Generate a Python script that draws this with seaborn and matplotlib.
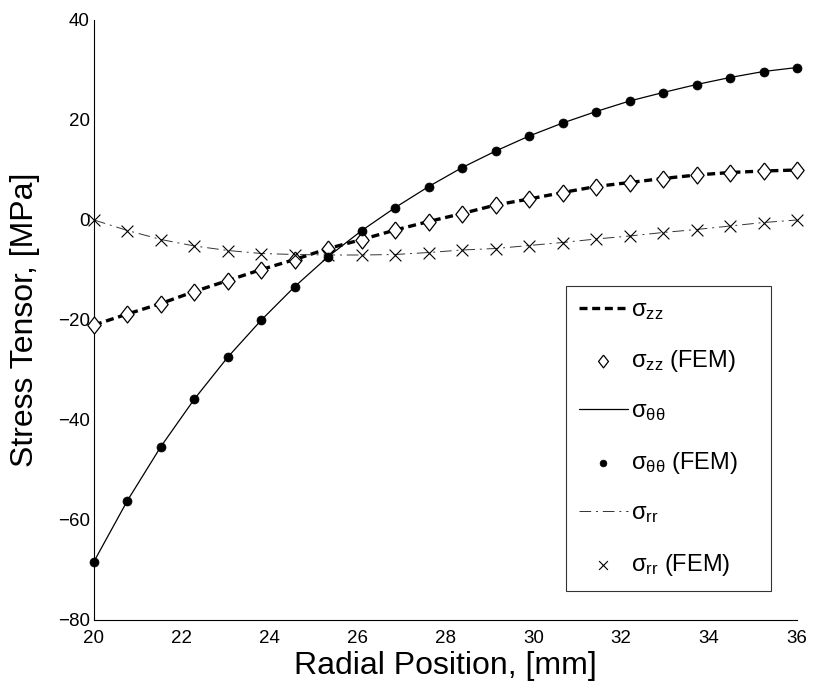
import numpy as np
import pandas as pd
import matplotlib
matplotlib.use("Agg")
import matplotlib.pyplot as plt
import seaborn as sns

# ---- data ----
n_points = 22
radial = [20 + 16 * i / 21 for i in range(n_points)]
sigma_zz = [-21.0, -18.8, -16.7, -14.3, -12.1, -9.9, -7.9, -5.7, -3.9, -2.0, -0.3,
            1.3, 3.0, 4.2, 5.5, 6.7, 7.5, 8.3, 9.0, 9.5, 9.8, 10.0]
sigma_tt = [-68.3, -56.1, -45.3, -35.8, -27.4, -20.0, -13.3, -7.3, -2.1, 2.5, 6.7,
            10.5, 13.8, 16.8, 19.4, 21.7, 23.8, 25.5, 27.1, 28.5, 29.7, 30.5]
sigma_rr = [0.0, -2.1, -3.9, -5.2, -6.1, -6.7, -6.9, -7.0, -7.0, -6.9, -6.5,
            -6.0, -5.7, -5.1, -4.5, -3.8, -3.2, -2.5, -1.9, -1.2, -0.5, 0.0]
x_ticks = [20, 22, 24, 26, 28, 30, 32, 34, 36]
y_ticks = [-80, -60, -40, -20, 0, 20, 40]

df = pd.DataFrame({"r": radial, "zz": sigma_zz, "tt": sigma_tt, "rr": sigma_rr})

sns.set_style("white")
plt.rcParams["font.family"] = ["Liberation Sans", "DejaVu Sans"]
plt.rcParams["mathtext.default"] = "regular"
plt.rcParams["text.color"] = "black"
plt.rcParams["axes.labelcolor"] = "black"
plt.rcParams["xtick.color"] = "black"
plt.rcParams["ytick.color"] = "black"

fig = plt.figure(figsize=(8.14, 6.88), dpi=100)
ax = fig.add_axes([94 / 814, 1 - 620 / 688, 703 / 814, 600 / 688])

diamond = [(0, 1), (0.78, 0), (0, -1), (-0.78, 0), (0, 1)]

sns.lineplot(data=df, x="r", y="zz", ax=ax, color="black", lw=2.4,
             linestyle=(0, (2.4, 1.4)), label=r"$\sigma_{zz}$")
sns.scatterplot(data=df, x="r", y="zz", ax=ax, marker=diamond, s=150,
                facecolor="white", edgecolor="black", linewidth=0.9,
                label=r"$\sigma_{zz}$ (FEM)", zorder=3, clip_on=False)
sns.lineplot(data=df, x="r", y="tt", ax=ax, color="black", lw=0.9,
             label=r"$\sigma_{\theta\theta}$")
sns.scatterplot(data=df, x="r", y="tt", ax=ax, marker="o", s=42,
                color="black", edgecolor="black", linewidth=0.5,
                label=r"$\sigma_{\theta\theta}$ (FEM)", zorder=3, clip_on=False)
sns.lineplot(data=df, x="r", y="rr", ax=ax, color="#333333", lw=0.7,
             linestyle=(0, (12, 5, 2, 5)), label=r"$\sigma_{rr}$")
sns.scatterplot(data=df, x="r", y="rr", ax=ax, marker="x", s=72,
                color="black", linewidth=0.8,
                label=r"$\sigma_{rr}$ (FEM)", zorder=3, clip_on=False)

for line in ax.get_lines():
    line.set_dash_capstyle("butt")

ax.set_xlim(20, 36)
ax.set_ylim(-80, 40)
ax.set_xticks(x_ticks)
ax.set_yticks(y_ticks)
ax.set_xticklabels([str(t) for t in x_ticks])
ax.set_yticklabels([str(t).replace("-", "\u2212") for t in y_ticks])
ax.tick_params(axis="both", direction="in", length=7, width=0.8,
               labelsize=13.5, colors="black", labelcolor="black")
ax.tick_params(axis="x", pad=7)
ax.tick_params(axis="y", pad=3)
ax.spines["top"].set_visible(False)
ax.spines["right"].set_visible(False)
for s in ("left", "bottom"):
    ax.spines[s].set_color("black")
    ax.spines[s].set_linewidth(0.8)

ax.set_xlabel("Radial Position, [mm]", fontsize=23, color="black")
ax.set_ylabel("Stress Tensor, [MPa]", fontsize=23, color="black")
ax.xaxis.set_label_coords(0.5, -(666 - 620) / 600, transform=ax.transAxes)
ax.xaxis.label.set_va("center")
ax.yaxis.set_label_coords(-(94 - 25) / 703, 0.5, transform=ax.transAxes)
ax.yaxis.label.set_va("center")

leg = ax.legend(loc="upper left", bbox_to_anchor=(0.671, 0.557, 0.292, 0.0),
                mode="expand", fontsize=17, frameon=True, fancybox=False,
                edgecolor="black", handlelength=2.1, labelspacing=1.12,
                borderpad=0.55, handletextpad=0.1, borderaxespad=0,
                markerscale=0.75)
leg.get_frame().set_linewidth(0.8)
for t in leg.get_texts():
    t.set_color("black")

fig.savefig("out.png", dpi=100, facecolor="white")
